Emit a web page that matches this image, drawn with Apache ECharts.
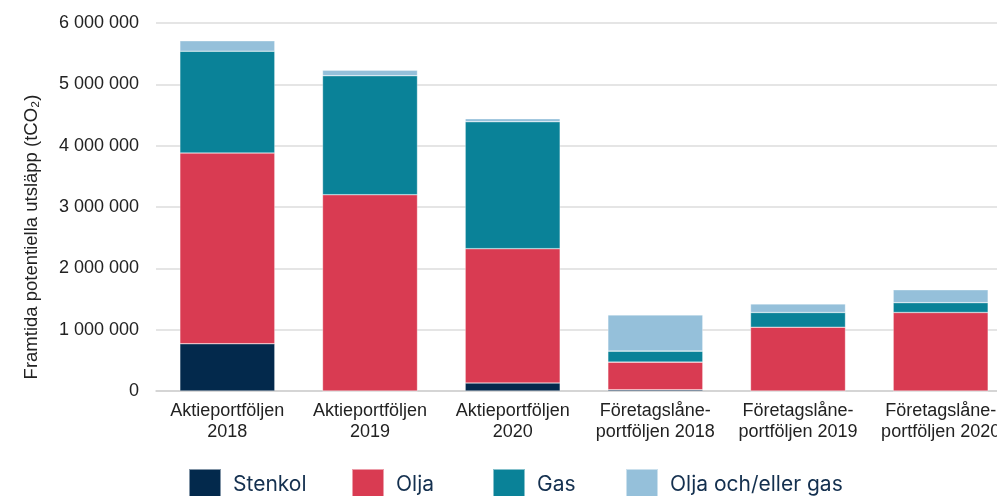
<!DOCTYPE html>
<html>
<head>
<meta charset="utf-8">
<script src="https://cdn.jsdelivr.net/npm/echarts@6/dist/echarts.min.js"></script>
<style>
  html, body { margin: 0; padding: 0; background: #fff; }
  #main { width: 997px; height: 496px; }
</style>
</head>
<body>
<div id="main"></div>
<script>
'use strict'
// kategorier (x-axel)
var categories = [
    'Aktieportföljen\n2018',
    'Aktieportföljen\n2019',
    'Aktieportföljen\n2020',
    'Företagslåne-\nportföljen 2018',
    'Företagslåne-\nportföljen 2019',
    'Företagslåne-\nportföljen 2020'
];
var seriesNames = ['Stenkol', 'Olja', 'Gas', 'Olja och/eller gas'];
// avlästa värden, tCO2
var stenkol = [770000, 0, 130000, 20000, 0, 0];
var olja = [3110000, 3200000, 2190000, 450000, 1040000, 1280000];
var gas = [1660000, 1940000, 2070000, 180000, 240000, 160000];
var oljaGas = [170000, 90000, 50000, 590000, 140000, 210000];
var yTicks = [0, 1000000, 2000000, 3000000, 4000000, 5000000, 6000000];
var yName = 'Framtida potentiella utsläpp (tCO₂)';

var colors = ['#03294c', '#d93b52', '#0a8298', '#95c0da'];
// legendens x-positioner (en legend per serie, som i originalet)
var legendLeft = [188, 351, 492, 625];

function fmt(v){
    return String(v).replace(/\B(?=(\d{3})+(?!\d))/g, ' ');
}

function makeSeries(name, data, color){
    return {
        name: name,
        type: 'bar',
        stack: 'total',
        barWidth: 95,
        itemStyle: {
            color: color,
            borderColor: 'rgba(255,255,255,0.5)',
            borderWidth: 0.6
        },
        data: data
    };
}

var legends = seriesNames.map(function(name, i){
    return {
        data: [name],
        left: legendLeft[i],
        top: 468,
        padding: 0,
        icon: 'rect',
        itemWidth: 32,
        itemHeight: 32,
        textStyle: {
            fontFamily: 'Inter',
            fontSize: 21,
            color: '#14304f',
            padding: [0, 0, 0, 7]
        }
    };
});

var myChart = echarts.init(document.getElementById('main'));
myChart.setOption({
    animation: false,
    color: colors,
    // plotytan fortsätter utanför högerkanten (beskuren i originalet)
    grid: {
        left: 156,
        width: 856,
        top: 23,
        bottom: 105,
        containLabel: false,
        outerBoundsMode: 'none'
    },
    legend: legends,
    graphic: [{
        type: 'text',
        x: 32,
        y: 237,
        rotation: Math.PI / 2,
        style: {
            text: yName,
            fontFamily: 'Liberation Sans',
            fontSize: 18.5,
            fill: '#222',
            align: 'center',
            verticalAlign: 'middle'
        }
    }],
    xAxis: {
        type: 'category',
        data: categories,
        axisLine: { lineStyle: { color: '#d0d0d0', width: 1.5 } },
        axisTick: { show: false },
        axisLabel: {
            interval: 0,
            margin: 10,
            fontFamily: 'Liberation Sans',
            fontSize: 18,
            lineHeight: 21,
            color: '#222'
        }
    },
    yAxis: {
        type: 'value',
        min: yTicks[0],
        max: yTicks[yTicks.length - 1],
        interval: 1000000,
        axisLine: { show: false },
        axisTick: { show: false },
        splitLine: { lineStyle: { color: '#dcdcdc', width: 1.5 } },
        axisLabel: {
            margin: 17,
            fontFamily: 'Liberation Sans',
            fontSize: 18,
            color: '#222',
            formatter: fmt
        }
    },
    series: [
        makeSeries(seriesNames[0], stenkol, colors[0]),
        makeSeries(seriesNames[1], olja, colors[1]),
        makeSeries(seriesNames[2], gas, colors[2]),
        makeSeries(seriesNames[3], oljaGas, colors[3])
    ]
});
</script>
</body>
</html>
